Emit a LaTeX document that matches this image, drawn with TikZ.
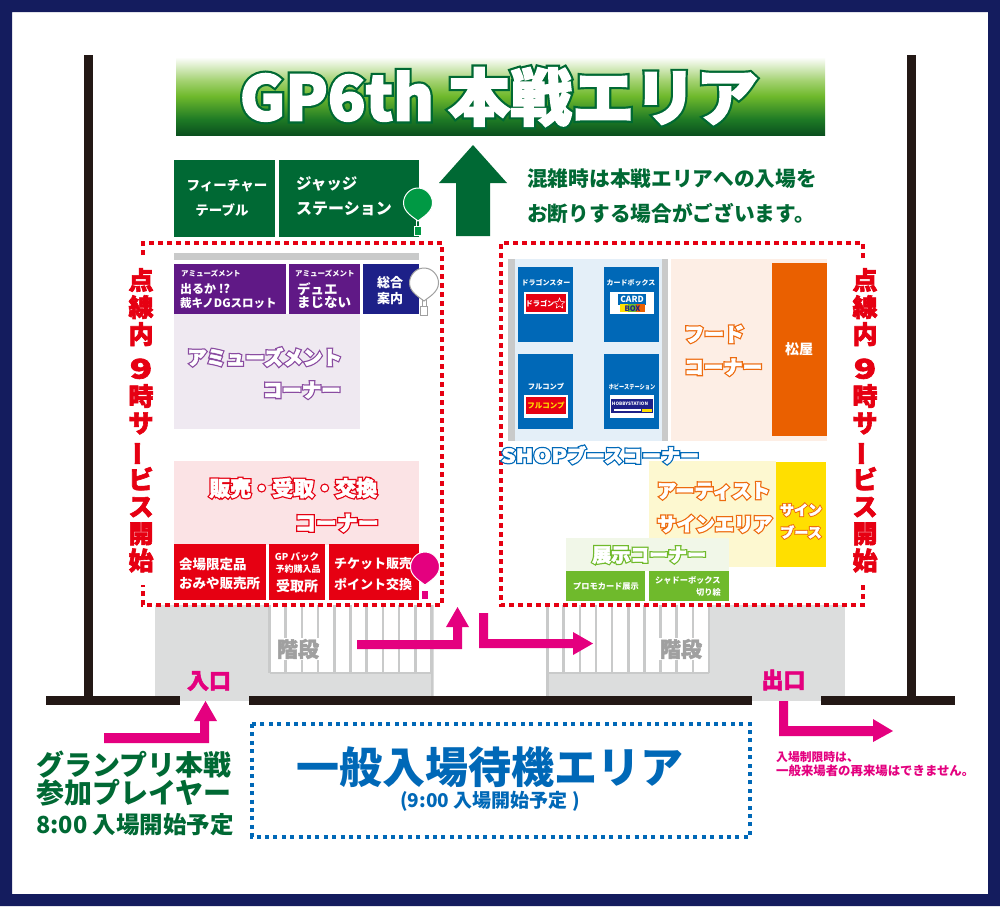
\documentclass[tikz,border=0pt]{standalone}
\usepackage{fontspec}
\setmainfont{Noto Sans CJK JP}
\newfontfamily\hvf[BoldFeatures={FakeBold=2.5}]{Noto Sans CJK JP}
\newfontfamily\mdf[BoldFeatures={FakeBold=2}]{Noto Sans CJK JP}
\usepackage{graphicx}
\usetikzlibrary{shapes.geometric}
\definecolor{navyframe}{HTML}{141C5E}
\definecolor{postblack}{HTML}{231815}
\definecolor{dgreen}{HTML}{006934}
\definecolor{lgreen}{HTML}{6FBA2C}
\definecolor{balgreen}{HTML}{009944}
\definecolor{mag}{HTML}{E4007F}
\definecolor{red1}{HTML}{E60012}
\definecolor{purple1}{HTML}{601986}
\definecolor{navy1}{HTML}{1D2088}
\definecolor{blue1}{HTML}{0068B7}
\definecolor{orange1}{HTML}{EA6000}
\definecolor{grayfloor}{HTML}{DCDDDD}
\definecolor{grayline}{HTML}{C9CACA}
\definecolor{graytext}{HTML}{A0A0A0}
\definecolor{palepurple}{HTML}{EFE9F1}
\definecolor{palepink}{HTML}{FBE3E5}
\definecolor{paleblue}{HTML}{E4EFF8}
\definecolor{paleorange}{HTML}{FDEEE5}
\definecolor{paleyellow}{HTML}{FDF8D0}
\definecolor{yellow1}{HTML}{FFDF00}
\definecolor{palegreen}{HTML}{F1F7E8}
\definecolor{ts1}{HTML}{0A501E}
\definecolor{ts2}{HTML}{1E7A25}
\definecolor{ts3}{HTML}{6FB92C}
\definecolor{ts4}{HTML}{A4D272}
\pgfdeclareverticalshading{titleshade}{100bp}{
  color(0bp)=(ts1);
  color(25bp)=(ts1);
  color(35bp)=(ts2);
  color(50bp)=(ts3);
  color(60bp)=(ts4);
  color(75bp)=(white);
  color(100bp)=(white)}
\newcommand{\fs}[1]{\fontsize{#1}{#1}\selectfont}
\newcommand{\vtext}{点\\線\\内\\[8pt]{\fontsize{27}{27}\selectfont\scalebox{1.35}[1]{9}}\\時\\サ\\\rotatebox[origin=c]{90}{\reflectbox{ー}}\\ビ\\ス\\開\\始}
% fat text with an outline: stroke width, outline colour as r g b, text
\newcommand{\outl}[4][0.5]{{\rlap{\special{pdf:code q 2 Tr #2 w #3 RG #3 rg}#4\special{pdf:code Q}}\color{white}\special{pdf:code q 2 Tr #1 w 1 1 1 RG}#4\special{pdf:code Q}}}
\newcommand{\balloon}[4]{%
  \begin{scope}[shift={(#1,#2)}]
    \draw[#4,line width=0.5pt] (-2,14) -- (-2,22) (2,14) -- (2,22);
    \fill[#3,draw=#4,line width=1pt] (0,-16) .. controls (8,-16) and (14.5,-9) .. (14.5,-1) .. controls (14.5,8) and (5,13) .. (0,17) .. controls (-5,13) and (-14.5,8) .. (-14.5,-1) .. controls (-14.5,-9) and (-8,-16) .. (0,-16) -- cycle;
    \fill[#3,draw=#4,line width=1pt] (-3.5,22) rectangle (3.5,31);
  \end{scope}}
\tikzset{
  x=1pt,y=-1pt,
  t/.style={font=\bfseries\fs{#1},inner sep=0pt,text=white},
  tw/.style={t=#1,anchor=west},
  te/.style={t=#1,anchor=east},
  tm/.style={font=\mdf\bfseries\fs{#1},inner sep=0pt},
  vert/.style={inner sep=0pt,text=red1,align=center,anchor=north,font=\hvf\bfseries\fontsize{25}{27}\selectfont},
  box/.style={inner sep=0pt,draw=none},
  dotred/.style={draw=red1,line width=4pt,dash pattern=on 5pt off 4pt},
  dotblue/.style={draw=blue1,line width=4pt,dash pattern=on 4pt off 4.4pt},
  stairline/.style={draw=grayline,line width=2.6pt},
}
\begin{document}
\begin{tikzpicture}
\useasboundingbox (0,0) rectangle (1000,906);
\fill[white] (0,0) rectangle (1000,906);
% frame
\fill[navyframe,even odd rule] (0,0) rectangle (1000,906) (12,12) rectangle (988,894);
% floors
\fill[grayfloor] (155,605) rectangle (434,697);
\fill[grayfloor] (180,697) rectangle (249,701);
\fill[grayfloor] (546,605) rectangle (845,697);
\fill[grayfloor] (752,697) rectangle (821,701);
\fill[white] (269,605) rectangle (433,673);
\fill[white] (547,605) rectangle (709,673);
\foreach \i in {0,...,10} {\draw[stairline] ({269.5+16.2*\i},605) -- ({269.5+16.2*\i},673);}
\draw[stairline] (269.5,673) -- (432,673) -- (432,697);
\foreach \i in {0,...,10} {\draw[stairline] ({547.5+16.15*\i},605) -- ({547.5+16.15*\i},673);}
\draw[stairline] (547.5,673) -- (709,673);
\draw[stairline] (547.5,673) -- (547.5,697);
% walls
\fill[postblack] (84,55) rectangle (93,697);
\fill[postblack] (907,55) rectangle (916,697);
\fill[postblack] (46,696) rectangle (180,705);
\fill[postblack] (249,696) rectangle (752,705);
\fill[postblack] (821,696) rectangle (955,705);
% title
\shade[shading=titleshade] (176,57) rectangle (825,135);
\node[t=62,anchor=center] (title) at (499,97) {\outl[1.6]{6}{0 0.41 0.2}{GP6th 本戦エリア}};
% top boxes
\node[box,fill=dgreen,minimum width=101pt,minimum height=77pt,anchor=north west] (feature) at (174,160) {};
\node[box,fill=dgreen,minimum width=140pt,minimum height=77pt,anchor=north west] (judge) at (279,160) {};
\node[t=13.5] (f1) at (227,186) {フィーチャー};
\node[t=13.5] (f2) at (222,210) {テーブル};
\node[tw=15.5] (j1) at (296,184) {ジャッジ};
\node[tw=16] (j2) at (296,209) {ステーション};
\balloon{418}{204}{balgreen}{white}
\fill[dgreen] (473,145) -- (507,183) -- (490,183) -- (490,236) -- (456,236) -- (456,183) -- (439,183) -- cycle;
\node[tw=20.7,text=dgreen] (note1) at (527,179) {混雑時は本戦エリアへの入場を};
\node[tw=20.7,text=dgreen] (note2) at (527,213) {お断りする場合がございます。};
% amusement
\fill[grayline] (174,253) rectangle (419,260);
\fill[palepurple] (174,314) rectangle (360,429);
\fill[purple1] (174,264) rectangle (286,314);
\fill[purple1] (289,264) rectangle (360,314);
\fill[navy1] (363,264) rectangle (419,314);
\node[tw=7.5] (am1) at (181,274) {アミューズメント};
\node[tw=12] (am2) at (180,289) {出るか !?};
\node[tw=11.5] (am3) at (180,303) {裁キノDGスロット};
\node[tw=7.5] (am4) at (295,274) {アミューズメント};
\node[tw=13.5] (am5) at (297,289) {デュエ};
\node[tw=13.5] (am6) at (297,302) {まじない};
\node[t=13] (sogo1) at (390,283) {総合};
\node[t=13] (sogo2) at (390,299) {案内};
\balloon{424}{284}{white}{graytext}
\node[tw=19.5] (amu1) at (187,357) {\outl{3}{0.54 0.3 0.63}{アミューズメント}};
\node[te=19.5] (amu2) at (341,390) {\outl{3}{0.54 0.3 0.63}{コーナー}};
% sales
\fill[palepink] (174,461) rectangle (419,545);
\fill[red1] (174,544) rectangle (266,600);
\fill[red1] (269,544) rectangle (325,600);
\fill[red1] (329,544) rectangle (419,600);
\node[tw=13.5] (s1) at (179,564) {会場限定品};
\node[tw=13.5] (s2) at (179,583) {おみや販売所};
\node[t=9.5] (s3) at (297,557) {GP バック};
\node[t=9] (s4) at (298,569) {予約購入品};
\node[t=14] (s5) at (297,586) {受取所};
\node[tw=13] (s6) at (334,564) {チケット販売};
\node[tw=13] (s7) at (334,584) {ポイント交換};
\balloon{425}{568}{mag}{white}
\node[tw=21] (sale1) at (209,488) {\outl{3}{0.9 0 0.07}{販売・受取・交換}};
\node[te=21] (sale2) at (379,523) {\outl{3}{0.9 0 0.07}{コーナー}};
% shop
\fill[paleblue] (515,259) rectangle (662,441);
\fill[grayline] (508,259) rectangle (515,441);
\fill[grayline] (662,259) rectangle (668,441);
\fill[blue1] (518,267) rectangle (573,342);
\fill[blue1] (604,267) rectangle (659,342);
\fill[blue1] (518,354) rectangle (573,429);
\fill[blue1] (604,354) rectangle (659,429);
\node[t=7] (b1) at (546,283) {ドラゴンスター};
\node[t=7] (b2) at (631,283) {カードボックス};
\node[t=7.3] (b3) at (546,387) {フルコンプ};
\node[t=6.5] (b4) at (632,387) {\scalebox{.8}[1]{ホビーステーション}};
\fill[white] (524,292) rectangle (568,314);
\fill[white] (610,292) rectangle (654,314);
\fill[white] (524,395) rectangle (568,418);
\fill[white] (610,395) rectangle (654,418);
% logos
\fill[red1] (526,294) rectangle (566,312);
\node[t=7.2,anchor=center] (l1) at (540,304) {ドラゴン};
\node[star,star points=5,star point ratio=2.2,draw=white,line width=0.5pt,inner sep=0pt,minimum size=11pt] (l1s) at (559.5,303.5) {};
\fill[blue1] (618,294) rectangle (646,305);
\node[t=8.5] (l2) at (632,299.5) {CARD};
\fill[yellow1] (620,304) rectangle (628,312);
\fill[lgreen] (628,304) rectangle (636,312);
\fill[orange1] (636,304) rectangle (645,312);
\node[t=7.5,text=navy1] (l3) at (632.5,308.2) {BOX};
\fill[red1] (526,397) rectangle (566,414);
\node[t=7.5,text=yellow1] (l4) at (546,405) {フルコンプ};
\fill[navy1] (611,399) rectangle (653,413);
\node[t=4.6] (l5) at (630,403.5) {HOBBYSTATION};
\fill[yellow1] (642,409) rectangle (652,412);
\fill[white] (614,409) rectangle (641,411);
% food
\fill[paleorange] (671,259) rectangle (827,441);
\fill[orange1] (772,263) rectangle (827,436);
\node[t=14] (mat) at (799,349) {松屋};
\node[tw=20] (food1) at (684,334) {\outl{3}{0.93 0.42 0.06}{フード}};
\node[tw=19.5] (food2) at (684,367) {\outl{3}{0.93 0.42 0.06}{コーナー}};
% artist
\fill[paleyellow] (649,461) rectangle (776,567);
\fill[yellow1] (776,462) rectangle (826,567);
\node[tw=19.2] (ar1) at (657,491) {\outl{3}{0.93 0.42 0.06}{アーティスト}};
\node[tw=19.2] (ar2) at (657,524) {\outl{3}{0.93 0.42 0.06}{サインエリア}};
\node[t=14] (sign1) at (801,510) {\outl[0.3]{2.2}{0.93 0.42 0.06}{サイン}};
\node[t=14] (sign2) at (801,532) {\outl[0.3]{2.2}{0.93 0.42 0.06}{ブース}};
% exhibit
\fill[palegreen] (566,538) rectangle (729,571);
\fill[lgreen] (566,571) rectangle (645,601);
\fill[lgreen] (649,571) rectangle (729,601);
\node[tw=19] (ex) at (592,555) {\outl{3}{0.44 0.73 0.17}{展示コーナー}};
\node[t=8.2] (ex1) at (606,586) {プロモカード展示};
\node[tw=8.2] (ex2) at (655,580) {シャドーボックス};
\node[te=8.2] (ex3) at (721,592) {切り絵};
% dotted zones
\draw[dotred] (143,255) -- (143,243) -- (442,243) -- (442,605) -- (143,605) -- (143,585);
\draw[dotred] (863,258) -- (863,243) -- (501,243) -- (501,605) -- (863,605) -- (863,585);
\node[tw=19] (shop) at (501,455) {\outl{3}{0 0.41 0.72}{{\addfontfeature{FakeStretch=1.2}SHOP}ブースコーナー}};
% vertical labels
\node[vert] (v1) at (141,268) {\vtext};
\node[vert] (v2) at (865,268) {\vtext};
% stairs labels
\node[tm=21,text=graytext,fill=white,inner sep=1pt] (st1) at (298,649) {階段};
\node[tm=21,text=graytext,fill=white,inner sep=1pt] (st2) at (681,649) {階段};
\node[tm=22,text=mag] (in) at (209,681) {入口};
\node[tm=22,text=mag] (out) at (783.5,680) {出口};
% arrows
\fill[mag] (357,640) -- (453,640) -- (453,627) -- (446,627) -- (457.5,607) -- (469,627) -- (462,627) -- (462,649) -- (357,649) -- cycle;
\fill[mag] (479,613) -- (488,613) -- (488,639) -- (573,639) -- (573,632) -- (593,643.5) -- (573,655) -- (573,648) -- (479,648) -- cycle;
\fill[mag] (104,733) -- (200,733) -- (200,721) -- (194,721) -- (205.5,701) -- (217,721) -- (209,721) -- (209,743) -- (104,743) -- cycle;
\fill[mag] (779,701) -- (788,701) -- (788,726) -- (873,726) -- (873,719) -- (893,731) -- (873,742) -- (873,736) -- (779,736) -- cycle;
% waiting area
\draw[dotblue] (252,724) rectangle (750,837);
\node[t=43,text=blue1] (wait) at (490,767) {一般入場待機エリア};
\node[t=19,text=blue1] (wait2) at (490,801) {(9:00 入場開始予定 )};
% left text
\node[tw=28,text=dgreen] (g1) at (36,765) {グランプリ本戦};
\node[tw=28,text=dgreen] (g2) at (36,793) {参加プレイヤー};
\node[tw=23.5,text=dgreen] (g3) at (36,825) {8:00 入場開始予定};
% notes
\node[tw=11.8,text=mag] (n1) at (776,757) {入場制限時は、};
\node[tw=12.4,text=mag] (n2) at (776,771) {一般来場者の再来場はできません。};
\end{tikzpicture}
\end{document}
